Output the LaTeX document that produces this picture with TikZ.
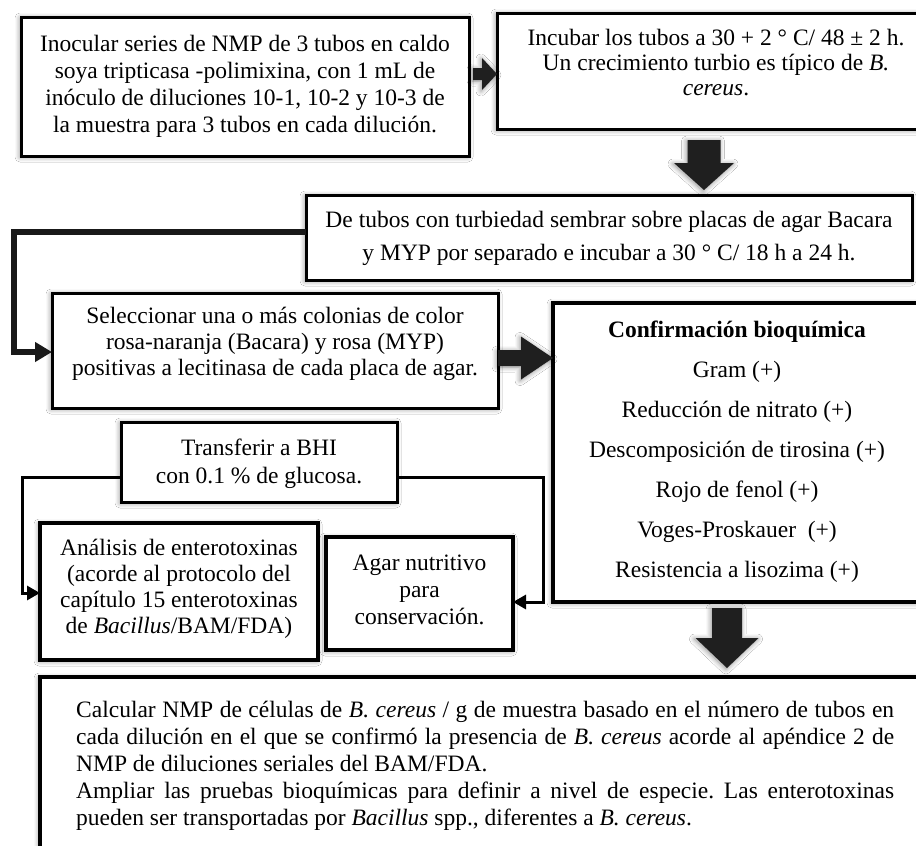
\documentclass[tikz,border=0pt]{standalone}
\usepackage{fontspec}
\setmainfont{Liberation Serif}
\usetikzlibrary{arrows.meta,calc,shadows.blur}
\frenchspacing
\tikzset{
  shd/.style={blur shadow={shadow xshift=-1pt, shadow yshift=-1pt, shadow blur radius=5pt, shadow blur steps=8, shadow opacity=45}},
  box/.style={draw=black, line width=3pt, fill=white, anchor=north west, inner sep=0pt, outer sep=0pt, shd},
  txt/.style={align=center, inner sep=0pt},
  blockarrow/.style={fill=black!88, shd},
  conn/.style={draw=black!90, line width=6.5pt, line join=miter, -{Triangle[length=17pt,width=19pt]}},
  thinconn/.style={draw=black, line width=3pt, line join=miter, -{Triangle[length=13pt,width=14pt]}},
}
\newcommand\fsz[1]{\fontsize{23.5pt}{#1}\selectfont}
\newcommand\harr[5]{\fill[blockarrow] let \p1=(#1),\p2=(#2) in (\x1,{\y1+#3}) -- ({\x2-#5},{\y1+#3}) -- ({\x2-#5},{\y1+#4}) -- (\x2,\y1) -- ({\x2-#5},{\y1-#4}) -- ({\x2-#5},{\y1-#3}) -- (\x1,{\y1-#3}) -- cycle;}
\newcommand\varr[5]{\fill[blockarrow] let \p1=(#1),\p2=(#2) in ({\x1-#3},\y1) -- ({\x1-#3},{\y2+#5}) -- ({\x1-#4},{\y2+#5}) -- (\x1,\y2) -- ({\x1+#4},{\y2+#5}) -- ({\x1+#3},{\y2+#5}) -- ({\x1+#3},\y1) -- cycle;}
\begin{document}
\begin{tikzpicture}[x=1pt,y=-1pt]
\useasboundingbox (0,0) rectangle (916,846);
\fill[white] (0,0) rectangle (916,846);
% boxes
\node[box, minimum width=448pt, minimum height=139pt] (b1) at (21,17) {};
\node[box, minimum width=437pt, minimum height=116pt] (b2) at (497,13) {};
\node[box, minimum width=606pt, minimum height=85pt] (b3) at (306,195) {};
\node[box, minimum width=446pt, minimum height=115pt] (b4) at (52,293) {};
\node[box, line width=3.5pt, minimum width=369pt, minimum height=299pt] (b5) at (553,303) {};
\node[box, minimum width=276pt, minimum height=80pt] (tr) at (121,422) {};
\node[box, line width=3.5pt, minimum width=278pt, minimum height=137pt] (an) at (40,523) {};
\node[box, line width=3.5pt, minimum width=187pt, minimum height=113pt] (ag) at (326,537) {};
\node[box, line width=3.5pt, minimum width=890pt, minimum height=200pt] (bt) at (40,677) {};
% texts
\node[txt, font=\fsz{27pt}] (t1) at (245,86) {Inocular series de NMP de 3 tubos en caldo\\soya tripticasa -polimixina, con 1 mL de\\inóculo de diluciones 10-1, 10-2 y 10-3 de\\la muestra para 3 tubos en cada dilución.};
\node[txt, font=\fsz{25pt}] (t2) at (716,63) {Incubar los tubos a 30 + 2 ° C/ 48 ± 2 h.\\Un crecimiento turbio es típico de \textit{B.}\\\textit{cereus}.};
\node[txt, font=\fsz{33pt}] (t3) at (609,238.5) {De tubos con turbiedad sembrar sobre placas de agar Bacara\\y MYP por separado e incubar a 30 ° C/ 18 h a 24 h.};
\node[txt, font=\fsz{26pt}] (t4) at (275,344) {Seleccionar una o más colonias de color\\rosa-naranja (Bacara) y rosa (MYP)\\positivas a lecitinasa de cada placa de agar.};
\node[txt, font=\fsz{40pt}] (t5) at (737,452) {\textbf{Confirmación bioquímica}\\Gram (+)\\Reducción de nitrato (+)\\Descomposición de tirosina (+)\\Rojo de fenol (+)\\Voges-Proskauer\ \ (+)\\Resistencia a lisozima (+)};
\node[txt, font=\fsz{28pt}] (t6) at (259,464) {Transferir a BHI\\con 0.1 \% de glucosa.};
\node[txt, font=\fsz{26pt}] (t7) at (179,589) {Análisis de enterotoxinas\\(acorde al protocolo del\\capítulo 15 enterotoxinas\\de \textit{Bacillus}/BAM/FDA)};
\node[txt, font=\fsz{27pt}] (t8) at (419.5,590) {Agar nutritivo\\para\\conservación.};
\node[anchor=north west, inner sep=0pt, text width=818pt, align=justify, font=\fsz{27pt}] (t9) at (76,701) {Calcular NMP de células de \textit{B. cereus} / g de muestra basado en el número de tubos en\linebreak cada dilución en el que se confirmó la presencia de \textit{B. cereus} acorde al apéndice 2 de\linebreak NMP de diluciones seriales del BAM/FDA.\\Ampliar las pruebas bioquímicas para definir a nivel de especie. Las enterotoxinas\linebreak pueden ser transportadas por \textit{Bacillus} spp., diferentes a \textit{B. cereus}.};
% block arrows
\coordinate (a1s) at (473,74);
\coordinate (a1e) at (b2.west |- a1s);
\harr{a1s}{a1e}{6pt}{16pt}{15pt}
\coordinate (a2s) at (704,140);
\coordinate (a2e) at ($(a2s |- b3.north)+(0,-5)$);
\varr{a2s}{a2e}{16.5pt}{30pt}{27pt}
\coordinate (a4s) at (b4.east |- 0,358);
\coordinate (a4e) at (b5.west |- a4s);
\harr{a4s}{a4e}{8pt}{21.5pt}{32pt}
\coordinate (a3s) at (727,608);
\coordinate (a3e) at (727,668);
\varr{a3s}{a3e}{15pt}{31.5pt}{30pt}
% connectors
\coordinate (lc) at (14,300);
\draw[conn] ([yshift=5.5pt]b3.west) -| (lc) |- ([yshift=-1.5pt]b4.west);
\coordinate (lc2) at (22,540);
\draw[thinconn] ([yshift=-15pt]tr.west) -| (lc2) |- ([yshift=-1.5pt]an.west);
\coordinate (rc2) at (543,540);
\draw[thinconn] ([yshift=-15pt]tr.east) -| (rc2) |- ([yshift=-8.5pt]ag.east);
\end{tikzpicture}
\end{document}
